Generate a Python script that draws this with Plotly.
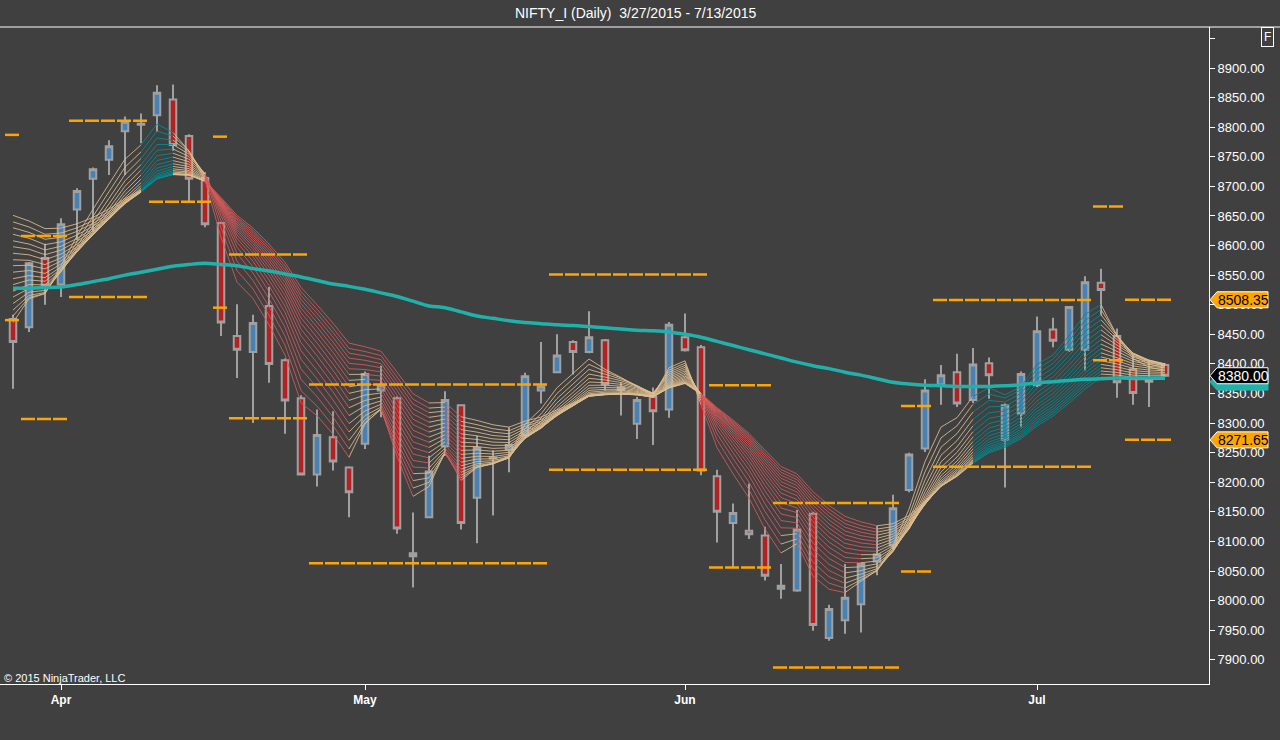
import plotly.graph_objects as go

BG = "#404040"
FONT = "Liberation Sans, Arial, sans-serif"

# daily bars, 3/27/2015 - 7/13/2015, one entry per trading day
OPEN = [8476, 8462, 8579, 8534, 8661, 8713, 8745, 8793, 8804, 8820,
        8847, 8785, 8714, 8638, 8447, 8420, 8498, 8406, 8342, 8213,
        8276, 8225, 8265, 8355, 8342, 8080, 8141, 8261, 8330, 8174,
        8240, 8255, 8279, 8355, 8386, 8437, 8420, 8440, 8360, 8299,
        8344, 8323, 8445, 8428, 8210, 8131, 8118, 8110, 8025, 8017,
        8147, 7937, 7967, 7994, 8066, 8093, 8187, 8257, 8365, 8386,
        8339, 8401, 8272, 8316, 8364, 8458, 8424, 8424, 8537, 8447,
        8391, 8370, 8398]
HIGH = [8483, 8572, 8603, 8646, 8697, 8732, 8778, 8818, 8823, 8871,
        8872, 8788, 8724, 8640, 8501, 8483, 8530, 8409, 8347, 8323,
        8320, 8227, 8387, 8397, 8345, 8149, 8245, 8354, 8332, 8278,
        8254, 8293, 8385, 8437, 8450, 8440, 8489, 8442, 8369, 8344,
        8360, 8471, 8485, 8432, 8221, 8164, 8198, 8125, 8062, 8153,
        8150, 7993, 8062, 8064, 8126, 8179, 8250, 8374, 8398, 8417,
        8427, 8411, 8333, 8387, 8480, 8478, 8498, 8548, 8561, 8460,
        8416, 8406, 8401]
LOW = [8358, 8454, 8500, 8513, 8609, 8623, 8719, 8719, 8773, 8792,
       8760, 8674, 8631, 8447, 8376, 8300, 8368, 8282, 8212, 8193,
       8220, 8141, 8256, 8310, 8113, 8022, 8139, 8245, 8120, 8097,
       8144, 8217, 8277, 8333, 8385, 8382, 8418, 8355, 8313, 8273,
       8263, 8309, 8421, 8212, 8098, 8056, 8104, 8034, 8003, 8015,
       7949, 7932, 7944, 7946, 8043, 8087, 8183, 8251, 8331, 8327,
       8334, 8341, 8191, 8293, 8361, 8428, 8420, 8389, 8482, 8343,
       8331, 8327, 8378]
CLOSE = [8437, 8570, 8532, 8636, 8692, 8729, 8768, 8809, 8806, 8858,
         8770, 8713, 8636, 8470, 8424, 8469, 8400, 8338, 8213, 8280,
         8235, 8183, 8383, 8364, 8122, 8075, 8218, 8339, 8131, 8258,
         8242, 8263, 8379, 8362, 8414, 8420, 8445, 8365, 8356, 8339,
         8320, 8466, 8423, 8220, 8150, 8148, 8112, 8042, 8020, 8120,
         7959, 7986, 8005, 8062, 8078, 8156, 8247, 8355, 8381, 8333,
         8399, 8381, 8330, 8383, 8455, 8439, 8496, 8538, 8525, 8369,
         8351, 8373, 8380]

# slow moving average (thick teal line), read per bar
SLOW_MA = [8528, 8528, 8529, 8530, 8534, 8539, 8544, 8550, 8555, 8560,
           8565, 8568, 8570, 8568, 8566, 8561, 8557, 8552, 8547, 8541,
           8535, 8531, 8526, 8520, 8514, 8506, 8498, 8495, 8488, 8481,
           8477, 8473, 8470, 8468, 8466, 8465, 8463, 8461, 8459, 8457,
           8456, 8454, 8450, 8445, 8438, 8431, 8424, 8417, 8410, 8403,
           8397, 8392, 8386, 8381, 8375, 8369, 8366, 8364, 8363, 8362,
           8362, 8362, 8363, 8365, 8368, 8370, 8372, 8374, 8375, 8376,
           8376, 8376, 8376]

MONTH_TICKS = [3, 22, 42, 64]
MONTH_LABELS = ["Apr", "May", "Jun", "Jul"]

# EMA ribbon: periods and the values read at the first bar
RIBBON_PERIODS = [4, 4.7, 5.4, 6.1, 6.8, 7.5, 8.2, 8.9, 9.6, 10.3,
                  11, 11.7, 12.4, 13.1, 13.8, 14.5, 15.2, 16]
RIBBON_START = [8470, 8481, 8491, 8502, 8513, 8523, 8534, 8544, 8555, 8566,
                8576, 8587, 8598, 8608, 8619, 8630, 8640, 8651]
# trend state of each segment (bar i-1 -> i): n neutral, u up, d down
RIBBON_ZONE = "n" * 8 + "u" * 2 + "n" * 2 + "d" * 16 + "n" * 15 + "d" * 11 + "n" * 6 + "u" * 8 + "n" * 4

# pivot levels: first bar, last bar, upper, lower
PIVOT_FROM = [0, 1, 4, 9, 13, 14, 19, 34, 44, 48, 56, 58, 68, 70]
PIVOT_TO = [0, 3, 8, 12, 13, 18, 33, 43, 47, 55, 57, 67, 69, 72]
PIVOT_HI = [8787, 8616, 8811, None, 8784, 8585, 8365, 8551, 8364, 8165, 8329, 8508, 8666, 8508.35]
PIVOT_LO = [8474, 8307, 8513, 8674, 8495, 8308, 8063, 8221, 8056, 7887, 8049, 8226, 8406, 8271.65]

bars = list(range(len(CLOSE)))

candles = go.Candlestick(
    x=bars, open=OPEN, high=HIGH, low=LOW, close=CLOSE,
    increasing={"line": {"color": "#A0A0A0", "width": 2}, "fillcolor": "#4682B4"},
    decreasing={"line": {"color": "#A0A0A0", "width": 2}, "fillcolor": "#B22222"},
    hoverinfo="skip", showlegend=False,
)

segs = {"n": ([], []), "d": ([], []), "u": ([], [])}
for period, start in zip(RIBBON_PERIODS, RIBBON_START):
    a = 2 / (period + 1)
    ema = [start]
    for c in CLOSE[1:]:
        ema.append(ema[-1] + a * (c - ema[-1]))
    for i in range(1, len(bars)):
        z = RIBBON_ZONE[i - 1]
        if z == "d" and ema[i] >= ema[i - 1]:
            z = "n"
        xs, ys = segs[z]
        xs += [i - 1, i, None]
        ys += [ema[i - 1], ema[i], None]

RIBBON_COLORS = {"n": "rgba(222,190,145,0.85)", "d": "rgba(215,90,90,0.85)", "u": "rgba(0,140,145,0.9)"}
ribbon = [
    go.Scatter(x=segs[z][0], y=segs[z][1], mode="lines",
               line={"color": RIBBON_COLORS[z], "width": 1},
               hoverinfo="skip", showlegend=False)
    for z in ["n", "d", "u"]
]

slow = go.Scatter(x=bars, y=SLOW_MA, mode="lines",
                  line={"color": "#20B2AA", "width": 3.5, "shape": "spline"},
                  hoverinfo="skip", showlegend=False)

fig = go.Figure(data=[candles] + ribbon + [slow])

shapes = []
for s, e, hi, lo in zip(PIVOT_FROM, PIVOT_TO, PIVOT_HI, PIVOT_LO):
    for level in (hi, lo):
        if level is None:
            continue
        shapes.append(dict(type="line", xref="x", yref="y", x0=s - 0.5, x1=e + 0.5,
                           y0=level, y1=level, layer="above",
                           line={"color": "#FFA500", "width": 2.5, "dash": "14px,2px"}))

# panel border across the top
shapes.append(dict(type="line", xref="paper", yref="paper", x0=0, x1=1280 / 1209,
                   y0=1, y1=1, line={"color": "white", "width": 1}))

annotations = []
PRICE_MARKERS = [(8376, "#20B2AA", "#20B2AA", "", 4),
                 (8508.35, "#FFA500", "white", "8508.35", 0),
                 (8380.00, "black", "white", "8380.00", 0),
                 (8271.65, "#FFA500", "white", "8271.65", 0)]
for value, fill, edge, label, drop in PRICE_MARKERS:
    shapes.append(dict(type="path", xref="paper", yref="y", xsizemode="pixel", ysizemode="pixel",
                       xanchor=1.0, yanchor=value,
                       path=f"M 1 {-drop} L 8 {8 - drop} L 59 {8 - drop} L 59 {-8 - drop} L 8 {-8 - drop} Z",
                       fillcolor=fill, line={"color": edge, "width": 1}, layer="above"))
    if label:
        annotations.append(dict(xref="paper", yref="y", x=1.0, y=value, xshift=34,
                                text=label, showarrow=False, xanchor="center", yanchor="middle",
                                font={"family": FONT, "size": 14,
                                      "color": "white" if fill == "black" else "black"}))

annotations += [
    dict(xref="paper", yref="paper", x=635 / 1209, y=1 + 14 / 657,
         text="NIFTY_I (Daily)\u00a0 3/27/2015 - 7/13/2015", showarrow=False,
         xanchor="center", yanchor="middle", font={"family": FONT, "size": 14, "color": "white"}),
    dict(xref="paper", yref="paper", x=1267 / 1209, y=1 - 10 / 657, text="F",
         showarrow=False, xanchor="center", yanchor="middle", bordercolor="white",
         borderwidth=1, borderpad=2, font={"family": FONT, "size": 12, "color": "white"}),
    dict(xref="paper", yref="paper", x=2 / 1209, y=6 / 657, text="\u00a9 2015 NinjaTrader, LLC",
         showarrow=False, xanchor="left", yanchor="middle",
         font={"family": FONT, "size": 11, "color": "white"}),
]

y_ticks = list(range(7900, 8951, 50))
fig.update_layout(
    width=1280, height=740,
    margin={"l": 0, "r": 71, "t": 27, "b": 56},
    paper_bgcolor=BG, plot_bgcolor=BG,
    boxgap=0.42,
    shapes=shapes, annotations=annotations,
    showlegend=False,
    xaxis=dict(range=[-0.8125, 74.75], rangeslider={"visible": False},
               tickvals=MONTH_TICKS, ticktext=[f"<b>{m}</b>" for m in MONTH_LABELS],
               showgrid=False, zeroline=False, showline=True, linecolor="white", linewidth=1,
               ticks="outside", ticklen=5, tickcolor="white",
               tickfont={"family": FONT, "size": 12, "color": "white"}),
    yaxis=dict(side="right", range=[7859.1, 8969.3],
               tickvals=y_ticks, ticktext=[f"{v:.2f}" if v < 8950 else "" for v in y_ticks],
               showgrid=False, zeroline=False, showline=True, linecolor="white", linewidth=1,
               ticks="outside", ticklen=5, tickcolor="white",
               tickfont={"family": FONT, "size": 13, "color": "white"}),
)

# page body has a default margin; drop it so the figure sits at the window corner
fig.write_html("out.html", config={"displayModeBar": False},
               post_script="document.body.style.margin='0';"
               "document.body.style.background='#404040';"
               "document.body.style.overflow='hidden';")
